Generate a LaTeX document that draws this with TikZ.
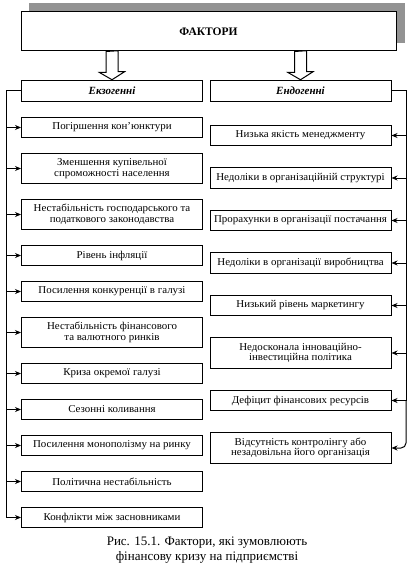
\documentclass[tikz,border=0pt]{standalone}
\usepackage{fontspec}
\setmainfont{Liberation Serif}
\newfontfamily\widefont{Liberation Serif}[FakeStretch=1.04]
\usetikzlibrary{arrows.meta,positioning,backgrounds,calc}

\begin{document}
\begin{tikzpicture}[x=1pt,y=-1pt,
factbox/.style={draw,fill=white,line width=1pt,minimum width=375pt,minimum height=39pt,font=\fontsize{11.5}{13}\selectfont\bfseries},
group/.style={draw,fill=white,line width=1pt,minimum width=181pt,minimum height=21.5pt,inner sep=0pt,font=\fontsize{11}{12}\selectfont\bfseries\itshape},
cause/.style={draw,line width=1pt,align=center,minimum width=181pt,minimum height=20.5pt,inner xsep=2pt,inner ysep=0.5pt,font=\widefont\fontsize{10.5}{10.5}\selectfont},
twoline/.style={minimum height=30.5pt},
hollow/.style={draw,fill=white,line width=1pt},
bus/.style={line width=1pt},
arr/.style={-{Stealth[length=6pt,width=5pt]},line width=1pt}]
\useasboundingbox (0,0) rectangle (413,580);
\node[factbox](fact) at (208.5,31.5){ФАКТОРИ};
\begin{scope}[on background layer]
\fill[gray!85] ([shift={(8,-8)}]fact.south west) rectangle ([shift={(8,-8)}]fact.north east);
\end{scope}
\node[group](exo) at (112,91){Екзогенні};
\node[group](endo) at (300.5,91){Ендогенні};
\foreach \g in {exo,endo}
  \draw[hollow] (\g.north |- fact.south) ++(-6,0) -- ++(0,21) -- ++(-6.5,0) -- (\g.north) -- ++(12.5,-8) -- ++(-6.5,0) -- ++(0,-21) -- cycle;
% exogenous factors
\node[cause](l1) at (112,127.5){Погіршення кон’юнктури};
\node[cause,twoline,below=14.5pt of l1](l2){Зменшення купівельної\\спроможності населення};
\node[cause,twoline,below=14.5pt of l2](l3){Нестабільність господарського та\\податкового законодавства};
\node[cause,below=14.5pt of l3](l4){Рівень інфляції};
\node[cause,below=14.5pt of l4](l5){Посилення конкуренції в галузі};
\node[cause,twoline,below=14.5pt of l5](l6){Нестабільність фінансового\\та валютного ринків};
\node[cause,below=14.5pt of l6](l7){Криза окремої галузі};
\node[cause,below=14.5pt of l7](l8){Сезонні коливання};
\node[cause,below=14.5pt of l8](l9){Посилення монополізму на ринку};
\node[cause,below=14.5pt of l9](l10){Політична нестабільність};
\node[cause,below=14.5pt of l10](l11){Конфлікти між засновниками};
% endogenous factors
\node[cause](r1) at (300.5,135.5){Низька якість менеджменту};
\node[cause,below=21pt of r1](r2){Недоліки в організаційній структурі};
\node[cause,below=21pt of r2](r3){Прорахунки в організації постачання};
\node[cause,below=21pt of r3](r4){Недоліки в організації виробництва};
\node[cause,below=21pt of r4](r5){Низький рівень маркетингу};
\node[cause,twoline,below=21pt of r5](r6){Недосконала інноваційно-\\інвестиційна політика};
\node[cause,below=21pt of r6](r7){Дефіцит фінансових ресурсів};
\node[cause,twoline,below=21pt of r7](r8){Відсутність контролінгу або\\незадовільна його організація};
\coordinate (busL) at (6,0);
\coordinate (busR) at (406,0);
\draw[bus] (exo.west) -| (busL |- l11.west);
\foreach \i in {1,...,11}
  \draw[arr] (busL |- l\i.west) -- (l\i.west);
\draw[bus] (endo.east) -| (busR |- r7.east);
\foreach \i in {1,...,7}
  \draw[arr] (busR |- r\i.east) -- (r\i.east);
\draw[arr,rounded corners=5pt] (busR |- r7.east) |- (r8.east);
\node[align=center,font=\fontsize{13}{14.5}\selectfont](caption) at (207,550){Рис. 15.1. Фактори, які зумовлюють\\фінансову кризу на підприємстві};
\end{tikzpicture}
\end{document}
